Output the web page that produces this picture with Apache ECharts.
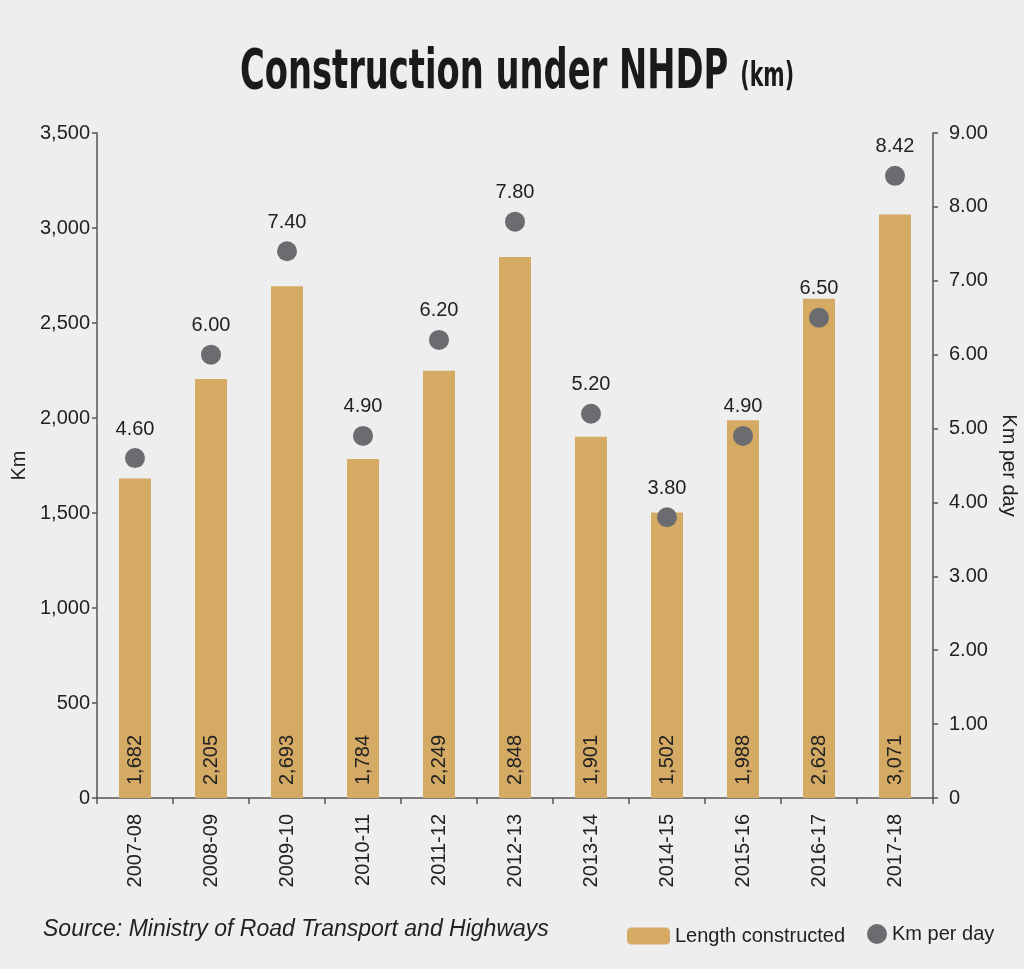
<!DOCTYPE html>
<html>
<head>
<meta charset="utf-8">
<script src="https://cdn.jsdelivr.net/npm/echarts@6/dist/echarts.min.js"></script>
<style>
html,body{margin:0;padding:0;background:#eeeeee;}
#chart{width:1024px;height:969px;}
</style>
</head>
<body>
<div id="chart"></div>
<script>
const categories = ['2007-08','2008-09','2009-10','2010-11','2011-12','2012-13','2013-14','2014-15','2015-16','2016-17','2017-18'];
const lengthConstructed = [1682,2205,2693,1784,2249,2848,1901,1502,1988,2628,3071];
const kmPerDay = [4.60,6.00,7.40,4.90,6.20,7.80,5.20,3.80,4.90,6.50,8.42];
const leftTicks = {min:0,max:3500,interval:500};
const rightTicks = {min:0,max:9,interval:1};

const FONT = '"Liberation Sans",Arial,sans-serif';
const TFONT = '"DejaVu Sans Condensed","DejaVu Sans",sans-serif';
const TXT = '#222222';
const AXIS = '#555555';
const BAR = '#d4aa64';
const DOT = '#6b6c70';

const chart = echarts.init(document.getElementById('chart'));
chart.setOption({
  backgroundColor: '#eeeeee',
  animation: false,
  textStyle: {fontFamily: FONT, color: TXT},
  grid: {left: 97, right: 91, top: 133, bottom: 171, containLabel: false, outerBoundsMode: 'none'},
  graphic: [
    {
      type: 'text', x: 517, y: 73, scaleX: 0.67,
      style: {
        text: '{a|Construction under NHDP}{b|(km)}',
        align: 'center', verticalAlign: 'middle',
        rich: {
          a: {fontFamily: TFONT, fontWeight: 'bold', fontSize: 56, fill: '#1a1a1a'},
          b: {fontFamily: TFONT, fontWeight: 'bold', fontSize: 34, fill: '#1a1a1a', padding:[8,0,0,18]}
        }
      }
    },
    {
      type: 'text', x: 43, y: 930,
      style: {
        text: 'Source: Ministry of Road Transport and Highways',
        fontFamily: FONT, fontStyle: 'italic', fontSize: 23, fill: TXT,
        verticalAlign: 'middle', align: 'left'
      }
    }
  ],
  legend: [
    {
      data: ['Length constructed'], left: 622, top: 921,
      itemWidth: 43, itemHeight: 17, itemGap: 10,
      textStyle: {fontFamily: FONT, fontSize: 20, color: TXT}
    },
    {
      data: [{name:'Km per day', icon:'circle'}], left: 862, top: 919,
      itemWidth: 20, itemHeight: 20,
      textStyle: {fontFamily: FONT, fontSize: 20, color: TXT}
    }
  ],
  xAxis: {
    type: 'category', data: categories,
    axisLine: {lineStyle: {color: AXIS, width: 1.5}},
    axisTick: {show: true, length: 6, lineStyle: {color: AXIS, width: 1.5}},
    axisLabel: {rotate: 90, fontSize: 20, color: TXT, fontFamily: FONT, margin: 16, interval: 0}
  },
  yAxis: [
    {
      type: 'value', min: leftTicks.min, max: leftTicks.max, interval: leftTicks.interval,
      name: 'Km', nameLocation: 'middle', nameGap: 65,
      nameTextStyle: {fontFamily: FONT, fontSize: 20, color: TXT},
      axisLine: {show: true, lineStyle: {color: AXIS, width: 1.5}},
      axisTick: {show: true, length: 5, lineStyle: {color: AXIS, width: 1.5}},
      splitLine: {show: false},
      axisLabel: {fontSize: 20, color: TXT, fontFamily: FONT, margin: 7,
        formatter: v => v === 0 ? '0' : v.toLocaleString('en-US')}
    },
    {
      type: 'value', min: rightTicks.min, max: rightTicks.max, interval: rightTicks.interval,
      position: 'right',
      name: 'Km per day', nameLocation: 'middle', nameGap: 61, nameRotate: -90,
      nameTextStyle: {fontFamily: FONT, fontSize: 20, color: TXT},
      axisLine: {show: true, lineStyle: {color: AXIS, width: 1.5}},
      axisTick: {show: true, length: 5, lineStyle: {color: AXIS, width: 1.5}},
      splitLine: {show: false},
      axisLabel: {fontSize: 20, color: TXT, fontFamily: FONT, margin: 16,
        formatter: v => v === 0 ? '0' : v.toFixed(2)}
    }
  ],
  series: [
    {
      name: 'Length constructed', type: 'bar', data: lengthConstructed,
      yAxisIndex: 0, barWidth: 32,
      itemStyle: {color: BAR},
      label: {
        show: true, position: 'insideBottom', rotate: 90, align: 'left', verticalAlign: 'middle',
        distance: 13, fontSize: 20, color: TXT, fontFamily: FONT,
        formatter: p => p.value.toLocaleString('en-US')
      }
    },
    {
      name: 'Km per day', type: 'scatter', data: kmPerDay,
      yAxisIndex: 1, symbol: 'circle', symbolSize: 20,
      itemStyle: {color: DOT, opacity: 1},
      label: {
        show: true, position: 'top', distance: 9, fontSize: 20, color: TXT, fontFamily: FONT,
        formatter: p => p.value.toFixed(2)
      }
    }
  ]
});
</script>
</body>
</html>
